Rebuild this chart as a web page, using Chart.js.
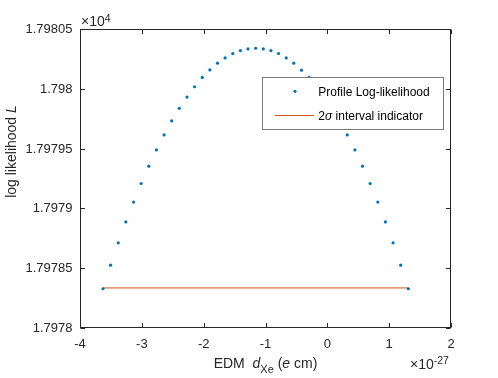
<!DOCTYPE html>
<html><head><meta charset="utf-8">
<script src="https://cdn.jsdelivr.net/npm/chart.js@4/dist/chart.umd.min.js"></script>
<style>html,body{margin:0;padding:0;background:#fff}#wrap{width:498px;height:378px}</style>
</head><body><div id="wrap"><canvas id="c" width="498" height="378"></canvas></div>
<script>
// EDM values (in units of 1e-27 e cm)
const edmX = [-3.628,-3.505,-3.381,-3.258,-3.134,-3.011,-2.887,-2.764,-2.640,-2.517,
  -2.394,-2.270,-2.147,-2.023,-1.900,-1.776,-1.653,-1.529,-1.406,-1.283,
  -1.159,-1.036,-0.912,-0.789,-0.665,-0.542,-0.418,-0.295,-0.172,-0.048,
  0.075,0.199,0.322,0.446,0.569,0.692,0.816,0.939,1.063,1.186,1.310];
// profile log-likelihood values
const logL = [17978.328,17978.525,17978.712,17978.887,17979.053,17979.208,17979.353,17979.489,17979.614,17979.731,
  17979.837,17979.931,17980.017,17980.095,17980.158,17980.214,17980.258,17980.295,17980.320,17980.333,
  17980.339,17980.333,17980.320,17980.295,17980.258,17980.214,17980.156,17980.095,17980.017,17979.931,
  17979.837,17979.731,17979.614,17979.489,17979.353,17979.208,17979.053,17978.887,17978.712,17978.525,17978.328];
const intervalX = [-3.628, 1.310];
const intervalY = [17978.335, 17978.335];
const xTicks = [-4,-3,-2,-1,0,1,2];
const yTicks = [17978,17978.5,17979,17979.5,17980,17980.5];
const seriesNames = ['Profile Log-likelihood', '2\u03c3 interval indicator'];

const AX = '#262626';
const BLUE = '#0072BD';
const ORANGE = '#D95319';
const FF = '"Liberation Sans", Arial, Helvetica, sans-serif';

const fmtX = v => String(v);
const fmtY = v => (v / 1e4).toFixed(5).replace(/0+$/, '').replace(/\.$/, '');

function drawRich(ctx, parts, x, y, align) {
  let total = 0;
  for (const p of parts) { ctx.font = p.font; p.w = ctx.measureText(p.t).width; total += p.w; }
  let cx = align === 'center' ? x - total / 2 : x;
  for (const p of parts) { ctx.font = p.font; ctx.fillText(p.t, cx, y + (p.dy || 0)); cx += p.w; }
}

const decor = {
  id: 'decor',
  afterDraw(chart) {
    const ctx = chart.ctx, a = chart.chartArea;
    const xs = chart.scales.x, ys = chart.scales.y;
    const L = Math.round(a.left) + 0.5, R = Math.round(a.right) - 0.5;
    const T = Math.round(a.top) + 0.5, B = Math.round(a.bottom) - 0.5;
    ctx.save();
    ctx.strokeStyle = AX; ctx.lineWidth = 1;
    ctx.strokeRect(L, T, R - L, B - T);
    const tl = 4.5;
    ctx.beginPath();
    for (const v of xTicks) {
      const px = Math.round(xs.getPixelForValue(v)) + 0.5;
      ctx.moveTo(px, B); ctx.lineTo(px, B - tl);
      ctx.moveTo(px, T); ctx.lineTo(px, T + tl);
    }
    for (const v of yTicks) {
      const py = Math.round(ys.getPixelForValue(v)) + 0.5;
      ctx.moveTo(L, py); ctx.lineTo(L + tl, py);
      ctx.moveTo(R, py); ctx.lineTo(R - tl, py);
    }
    ctx.stroke();

    // tick labels
    ctx.fillStyle = AX;
    ctx.font = '13px ' + FF;
    ctx.textAlign = 'center'; ctx.textBaseline = 'alphabetic';
    for (const v of xTicks) {
      ctx.fillText(fmtX(v), xs.getPixelForValue(v), B + 20);
    }
    ctx.textAlign = 'right'; ctx.textBaseline = 'middle';
    for (const v of yTicks) {
      ctx.fillText(fmtY(v), L - 8, ys.getPixelForValue(v) + 0.5);
    }

    ctx.textAlign = 'left'; ctx.textBaseline = 'alphabetic';
    // exponent labels
    drawRich(ctx, [{t:'\u00d710', font:'14px '+FF},{t:'4', font:'10.5px '+FF, dy:-4}], 81, 25.5, 'left');
    drawRich(ctx, [{t:'\u00d710', font:'14px '+FF},{t:'-27', font:'10.5px '+FF, dy:-5}], 410, 368.5, 'left');

    // x axis title
    drawRich(ctx, [
      {t:'EDM  ', font:'14px '+FF},
      {t:'d', font:'italic 14px '+FF},
      {t:'Xe', font:'11px '+FF, dy:5},
      {t:' (', font:'14px '+FF},
      {t:'e', font:'italic 14px '+FF},
      {t:' cm)', font:'14px '+FF}
    ], (a.left + a.right) / 2, 368.3, 'center');

    // y axis title
    ctx.save();
    ctx.translate(15.5, 151.5);
    ctx.rotate(-Math.PI / 2);
    drawRich(ctx, [
      {t:'log likelihood ', font:'14px '+FF},
      {t:'L', font:'italic 14px '+FF}
    ], 0, 0, 'center');
    ctx.restore();

    // legend
    const lx = 262.5, ly = 77.5, lw = 181, lh = 52;
    ctx.fillStyle = '#ffffff';
    ctx.fillRect(lx, ly, lw, lh);
    ctx.strokeStyle = '#7a7a7a';
    ctx.strokeRect(lx, ly, lw, lh);
    ctx.fillStyle = BLUE;
    ctx.beginPath(); ctx.arc(295, 91.3, 1.6, 0, Math.PI * 2); ctx.fill();
    ctx.strokeStyle = ORANGE; ctx.lineWidth = 1;
    ctx.beginPath(); ctx.moveTo(275, 115.5); ctx.lineTo(314, 115.5); ctx.stroke();
    ctx.fillStyle = '#000000';
    drawRich(ctx, [{t:seriesNames[0], font:'12px '+FF}], 318.3, 96, 'left');
    drawRich(ctx, [
      {t:'2', font:'12px '+FF},
      {t:'\u03c3', font:'italic 12px '+FF},
      {t:seriesNames[1].slice(2), font:'12px '+FF}
    ], 318.3, 120, 'left');
    ctx.restore();
  }
};

new Chart(document.getElementById('c'), {
  type: 'scatter',
  data: {
    datasets: [
      {
        label: seriesNames[0],
        data: edmX.map((x, i) => ({x, y: logL[i]})),
        showLine: false,
        pointRadius: 1.6,
        pointBackgroundColor: BLUE,
        pointBorderWidth: 0,
        borderColor: BLUE
      },
      {
        label: seriesNames[1],
        data: intervalX.map((x, i) => ({x, y: intervalY[i]})),
        showLine: true,
        pointRadius: 0,
        borderColor: ORANGE,
        borderWidth: 1
      }
    ]
  },
  options: {
    responsive: false,
    animation: false,
    devicePixelRatio: 1,
    layout: { padding: { left: 80, right: 47, top: 29, bottom: 50 } },
    plugins: { legend: { display: false }, tooltip: { enabled: false }, title: { display: false } },
    scales: {
      x: {
        type: 'linear', min: -4, max: 2,
        afterFit(s) { s.height = 0; },
        afterBuildTicks(s) { s.ticks = xTicks.map(v => ({value: v})); },
        grid: { display: false, drawTicks: false },
        border: { display: false },
        ticks: { display: false }
      },
      y: {
        type: 'linear', min: 17978, max: 17980.5,
        afterFit(s) { s.width = 0; },
        afterBuildTicks(s) { s.ticks = yTicks.map(v => ({value: v})); },
        grid: { display: false, drawTicks: false },
        border: { display: false },
        ticks: { display: false }
      }
    }
  },
  plugins: [decor]
});
</script></body></html>
